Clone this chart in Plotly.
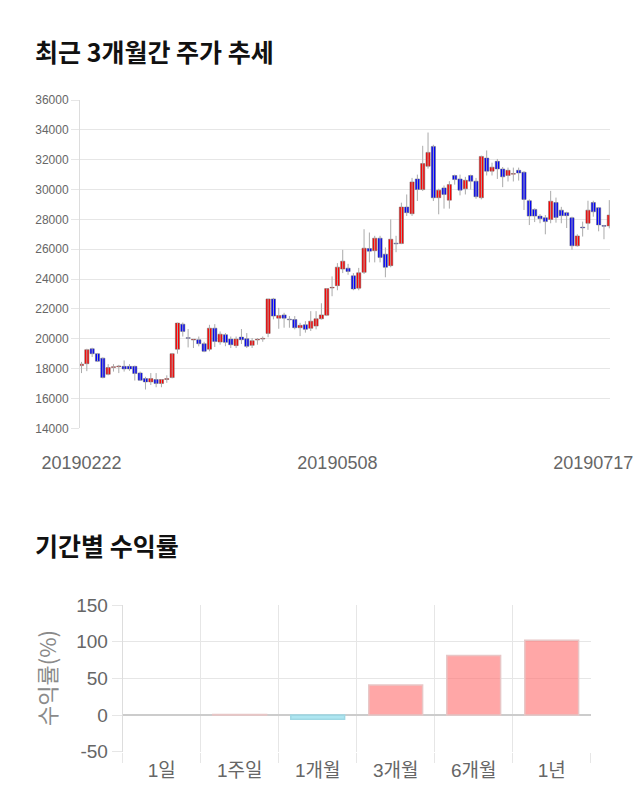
import plotly.graph_objects as go

# ---------------- data ----------------
opens = [18200, 18330, 19330, 19000, 18700, 17620, 18080, 18130, 18150, 18150,
         18150, 17710, 17330, 17110, 17270, 17000, 17270, 17400, 19300, 20980,
         20070, 19920, 19935, 19670, 19300, 20710, 19780, 20270, 19980, 19540,
         20110, 20000, 19560, 19920, 19980, 20360, 22670, 21380, 21600, 21310,
         21290, 20740, 20940, 20700, 20850, 21340, 21580, 23400, 23560, 24670,
         24730, 24220, 23390, 24450, 26050, 25900, 26740, 25670, 24900, 26400,
         26380, 28830, 28380, 30710, 30000, 31560, 32890, 29450, 30110, 29290,
         30940, 30710, 30050, 30940, 30560, 29450, 32110, 31230, 31890, 31380,
         30940, 31030, 31290, 31160, 29250, 28670, 28220, 28110, 28000, 29130,
         28620, 28450, 28110, 26230, 27480, 27740, 29130, 28780, 27580, 27560]
highs = [18450, 19330, 19400, 19050, 18750, 18300, 18300, 18250, 18550, 18300,
         18200, 17800, 17450, 17700, 17700, 17300, 17550, 19050, 21080, 21090,
         20650, 19960, 20150, 19800, 20935, 20980, 20490, 20380, 20150, 20150,
         20650, 20380, 20050, 20050, 20150, 22670, 22740, 22070, 21740, 21520,
         21520, 21070, 21180, 21850, 21850, 22380, 23400, 24180, 25070, 25960,
         25020, 24400, 24750, 27340, 27120, 26900, 26900, 26120, 28000, 26900,
         29120, 29670, 30780, 31000, 32930, 33820, 33000, 30050, 30270, 30560,
         31000, 31000, 30850, 31000, 30780, 32270, 32620, 31800, 32050, 31510,
         31470, 31470, 31470, 31230, 29340, 28740, 28350, 28290, 29910, 29460,
         28840, 28510, 28180, 27000, 27850, 29250, 29250, 28800, 27630, 29290]
lows = [17700, 17830, 18780, 18450, 17350, 17550, 17800, 17700, 17800, 17850,
        17200, 17200, 16600, 16900, 16750, 16750, 17050, 17350, 19000, 20150,
        19420, 19380, 19490, 19100, 19160, 19450, 19600, 19500, 19380, 19380,
        19650, 19380, 19380, 19600, 19800, 20100, 21300, 20670, 20740, 20740,
        20630, 20180, 20410, 20520, 20630, 21290, 21520, 22850, 23250, 24400,
        24290, 23250, 23250, 24340, 25120, 25120, 25120, 24120, 24790, 25800,
        26340, 28230, 28230, 29230, 29900, 31400, 29230, 28340, 28720, 28720,
        30330, 29610, 29670, 30000, 29380, 29340, 30940, 30940, 30710, 30160,
        30540, 30540, 30600, 28630, 27620, 27820, 27740, 27000, 27740, 27780,
        27740, 27420, 25960, 26180, 26850, 27300, 28180, 27200, 26670, 27400]
closes = [18300, 19270, 19000, 18500, 17400, 18070, 18120, 18170, 17980, 17980,
          17670, 17220, 17110, 17330, 17000, 17270, 17330, 19000, 21050, 20490,
          20030, 19950, 19670, 19160, 20710, 19820, 20310, 19760, 19600, 19980,
          19935, 19490, 19870, 19950, 20020, 22670, 21520, 21560, 21380, 21270,
          20740, 20900, 20630, 21180, 21340, 21600, 23360, 23440, 24800, 25200,
          24510, 23340, 24420, 26070, 25870, 26740, 25450, 24790, 26670, 26360,
          28830, 28450, 30510, 30000, 31740, 32490, 29450, 29960, 29670, 30330,
          30670, 29960, 30620, 30560, 29520, 32220, 31230, 31500, 31380, 30850,
          31290, 31070, 31110, 29340, 28220, 28220, 28050, 27850, 29220, 28130,
          28250, 28250, 26230, 26890, 27430, 28620, 28510, 27630, 27540, 28290]
date_ticks = [0, 48, 96]
date_labels = ["20190222", "20190508", "20190717"]
price_ticks = [14000, 16000, 18000, 20000, 22000, 24000, 26000, 28000, 30000, 32000, 34000, 36000]

periods = ["1일", "1주일", "1개월", "3개월", "6개월", "1년"]
returns = [0.0, 0.6, -5.9, 41.0, 81.0, 102.0]
return_ticks = [-50, 0, 50, 100, 150]
return_labels = ["-50", "0", "50", "100", "150"]

# ---------------- figure ----------------
W, H = 640, 810
FONT = "Liberation Sans, Arial, Noto Sans CJK KR, sans-serif"
KFONT = "Noto Sans CJK KR, sans-serif"
GRID = "#e6e6e6"

idx = list(range(len(opens)))
fig = go.Figure()

# wicks
wx, wy = [], []
for i, h, l in zip(idx, highs, lows):
    wx += [i, i, None]
    wy += [l, h, None]
fig.add_trace(go.Scatter(x=wx, y=wy, mode="lines", line=dict(color="#aaaaaa", width=1),
                         hoverinfo="skip", showlegend=False, xaxis="x", yaxis="y"))

# bodies
base = [min(o, c) for o, c in zip(opens, closes)]
height = [max(abs(c - o), 45) for o, c in zip(opens, closes)]
colors = ["#ff0000" if c >= o else "#0000ff" for o, c in zip(opens, closes)]
fig.add_trace(go.Bar(x=idx, y=height, base=base, width=0.78,
                     marker=dict(color=colors, line=dict(color="#666666", width=0.5)),
                     showlegend=False, xaxis="x", yaxis="y"))

# period returns
bar_fill = ["rgba(255,120,120,0.65)" if v >= 0 else "rgba(140,220,235,0.7)" for v in returns]
bar_line = ["#e8c6c6" if v >= 0 else "#9fd8e4" for v in returns]
bar_lw = [0 if v == 0 else 1.5 for v in returns]
fig.add_trace(go.Bar(x=periods, y=returns, width=0.69,
                     marker=dict(color=bar_fill, line=dict(color=bar_line, width=bar_lw)),
                     showlegend=False, xaxis="x2", yaxis="y2"))

def px_x(p):
    return p / W

def px_y(p):
    return 1 - p / H

fig.update_layout(
    width=W, height=H,
    margin=dict(l=0, r=0, t=0, b=0),
    paper_bgcolor="white", plot_bgcolor="white",
    template="none",
    barmode="overlay",
    xaxis=dict(domain=[px_x(80), px_x(610)], range=[-0.28, 99.13],
               tickmode="array", tickvals=date_ticks, ticktext=date_labels,
               showgrid=False, zeroline=False, showline=False,
               ticks="outside", ticklen=18, tickcolor="rgba(0,0,0,0)",
               tickfont=dict(family=FONT, size=18, color="#666666"),
               anchor="y", automargin=False),
    yaxis=dict(domain=[px_y(428.3), px_y(100)], range=[14000, 36000],
               tickmode="array", tickvals=price_ticks,
               ticktext=[str(v) for v in price_ticks],
               showgrid=True, gridcolor=GRID, gridwidth=1, zeroline=False,
               showline=True, linecolor="#dddddd", linewidth=1,
               ticks="outside", ticklen=8, tickcolor=GRID,
               tickfont=dict(family=FONT, size=12, color="#666666"),
               anchor="x", automargin=False),
    xaxis2=dict(domain=[px_x(122.7), px_x(590.7)], type="category",
                tickson="boundaries", showgrid=True, gridcolor=GRID, gridwidth=1,
                showline=False, ticks="outside", ticklen=10, tickcolor=GRID,
                ticklabelstandoff=5,
                tickfont=dict(family=FONT, size=19, color="#666666"),
                anchor="y2", automargin=False),
    yaxis2=dict(domain=[px_y(751.7), px_y(605)], range=[-50, 150],
                tickmode="array", tickvals=return_ticks, ticktext=return_labels,
                showgrid=True, gridcolor=GRID, gridwidth=1,
                zeroline=True, zerolinecolor="#cccccc", zerolinewidth=2,
                showline=True, linecolor="#dddddd", linewidth=1,
                ticks="outside", ticklen=10, tickcolor=GRID,
                tickfont=dict(family=FONT, size=19, color="#666666"),
                anchor="x2", automargin=False),
    annotations=[
        dict(text="<b>최근 3개월간 주가 추세</b>", xref="paper", yref="paper",
             x=px_x(33), y=px_y(51), xanchor="left", yanchor="middle", showarrow=False,
             font=dict(family=KFONT, size=25, color="#111111")),
        dict(text="<b>기간별 수익률</b>", xref="paper", yref="paper",
             x=px_x(33), y=px_y(545), xanchor="left", yanchor="middle", showarrow=False,
             font=dict(family=KFONT, size=25, color="#111111")),
        dict(text="수익률(%)", xref="paper", yref="paper", textangle=-90,
             x=px_x(46), y=px_y(678), xanchor="center", yanchor="middle", showarrow=False,
             font=dict(family=KFONT, size=22, color="#8a8a8a")),
    ],
)

fig.write_html("out.html")
